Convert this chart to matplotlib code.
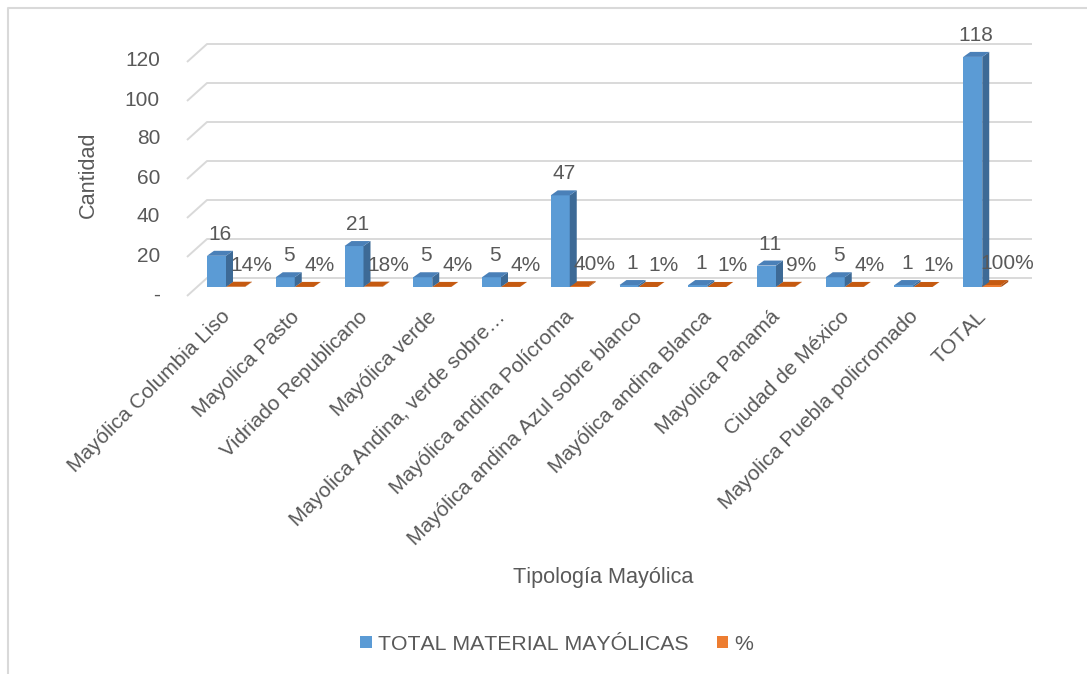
import matplotlib
matplotlib.use("Agg")
import matplotlib.pyplot as plt
from matplotlib.patches import Polygon, Rectangle

plt.rcParams["font.family"] = ["Liberation Sans", "DejaVu Sans"]
# plain advance widths, no pair kerning (keeps "11" / "118" evenly spaced)
plt.rcParams["text.kerning_factor"] = 12

# ---- data -------------------------------------------------------------
categories = [
    "Mayólica Columbia Liso",
    "Mayolica Pasto",
    "Vidriado Republicano",
    "Mayólica verde",
    "Mayolica Andina, verde sobre…",
    "Mayólica andina Polícroma",
    "Mayólica andina Azul sobre blanco",
    "Mayólica andina Blanca",
    "Mayolica Panamá",
    "Ciudad de México",
    "Mayolica Puebla policromado",
    "TOTAL",
]
total_material = [16, 5, 21, 5, 5, 47, 1, 1, 11, 5, 1, 118]
percent = [0.14, 0.04, 0.18, 0.04, 0.04, 0.40, 0.01, 0.01, 0.09, 0.04, 0.01, 1.00]
percent_labels = ["14%", "4%", "18%", "4%", "4%", "40%", "1%", "1%", "9%", "4%", "1%", "100%"]
y_ticks = [0, 20, 40, 60, 80, 100, 120]
y_tick_labels = ["-", "20", "40", "60", "80", "100", "120"]

# ---- figure & axes ----------------------------------------------------
W, H = 1087, 674
fig = plt.figure(figsize=(W / 100, H / 100), dpi=100)
fig.patch.set_facecolor("white")

# plane where the columns stand (pixel layout of the plot area)
px_left, px_right, px_zero, px_top = 197, 1022, 287, 53
ax = fig.add_axes([px_left / W, (H - px_zero) / H,
                   (px_right - px_left) / W, (px_zero - px_top) / H])
n = len(categories)
ax.set_xlim(0, n)
ax.set_ylim(0, 120)
ax.axis("off")

ux = n / (px_right - px_left)      # data units per pixel (x)
uy = 120 / (px_zero - px_top)      # data units per pixel (y)

TEXT = "#595959"
GRID = "#D9D9D9"
FS = 15
FS_TITLE = 15.6
FS_LEGEND = 15.3

# wall depth (back wall offset relative to column plane)
wdx, wdy = 10 * ux, 9 * uy
# column depth
bdx, bdy = 7 * ux, 5 * uy

# gridlines: slanted side-wall segment plus back-wall line
for t, lab in zip(y_ticks, y_tick_labels):
    ax.plot([-wdx, wdx, n + wdx], [t - wdy, t + wdy, t + wdy],
            color=GRID, lw=1.4, clip_on=False, zorder=1,
            solid_capstyle="butt")
    ax.text(-wdx - 27 * ux, t - wdy + 1 * uy, lab, ha="right", va="center",
            fontsize=FS, color=TEXT, clip_on=False)

blue_off, blue_w = 10 * ux, 19 * ux
orng_w = 19 * ux

BLUE_FRONT, BLUE_SIDE, BLUE_TOP = "#5B9BD5", "#3D6A96", "#4A80B8"
ORNG_FRONT, ORNG_SIDE, ORNG_TOP = "#ED7D31", "#A94E12", "#C55A11"


def column(x0, w, v, front, side, top, z):
    ax.add_patch(Rectangle((x0, 0), w, v, facecolor=front, edgecolor="none",
                           zorder=z, clip_on=False))
    ax.add_patch(Polygon([(x0 + w, 0), (x0 + w + bdx, bdy),
                          (x0 + w + bdx, v + bdy), (x0 + w, v)],
                         closed=True, facecolor=side, edgecolor="none",
                         zorder=z, clip_on=False))
    ax.add_patch(Polygon([(x0, v), (x0 + w, v), (x0 + w + bdx, v + bdy),
                          (x0 + bdx, v + bdy)],
                         closed=True, facecolor=top, edgecolor="none",
                         zorder=z, clip_on=False))


for i, (v, p, plab) in enumerate(zip(total_material, percent, percent_labels)):
    xb = i + blue_off
    xo = xb + blue_w
    column(xo, orng_w, p, ORNG_FRONT, ORNG_SIDE, ORNG_TOP, 2)
    column(xb, blue_w, v, BLUE_FRONT, BLUE_SIDE, BLUE_TOP, 3)

    ax.text(xb + blue_w / 2 + bdx / 2, v + 16 * uy, str(v), ha="center",
            va="baseline", fontsize=FS, color=TEXT, zorder=5, clip_on=False)
    ax.text(xo + orng_w / 2 + bdx / 2 + 12 * ux, p + 16 * uy, plab,
            ha="center", va="baseline", fontsize=FS, color=TEXT, zorder=5,
            clip_on=False)

    ax.text(xo + 8 * ux, -20 * uy, categories[i], rotation=45, ha="right",
            va="top", fontsize=FS, color=TEXT, clip_on=False)

# axis titles
fig.text(88 / W, 1 - 175 / H, "Cantidad", rotation=90, ha="center",
         va="center", fontsize=FS_TITLE, color=TEXT)
fig.text(603 / W, 1 - 577 / H, "Tipología Mayólica", ha="center",
         va="center", fontsize=FS_TITLE, color=TEXT)

# legend
handles = [Rectangle((0, 0), 1, 1, facecolor=BLUE_FRONT, edgecolor="none"),
           Rectangle((0, 0), 1, 1, facecolor=ORNG_FRONT, edgecolor="none")]
leg = fig.legend(handles, ["TOTAL MATERIAL MAYÓLICAS", "%"], loc="center",
                 bbox_to_anchor=(557 / W, 1 - 644 / H), ncol=2, frameon=False,
                 fontsize=FS_LEGEND, handlelength=0.55, handleheight=0.55,
                 handletextpad=0.3, columnspacing=1.3, labelcolor=TEXT)

# chart area border
fig.add_artist(plt.Line2D([8 / W, 8 / W, 1.0], [0.0, 1 - 8 / H, 1 - 8 / H],
                          transform=fig.transFigure, color=GRID, lw=1.5))

fig.savefig("out.png", dpi=100, facecolor="white")
